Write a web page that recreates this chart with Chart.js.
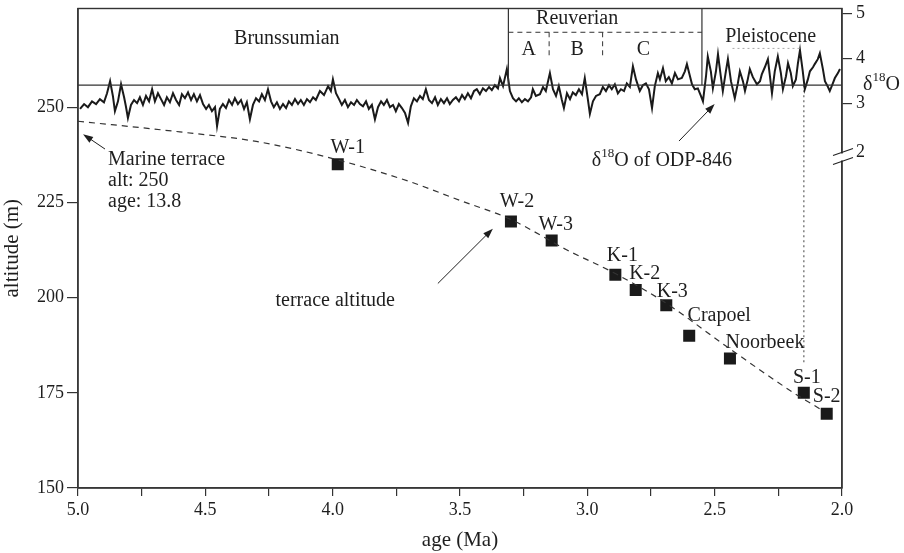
<!DOCTYPE html>
<html lang="en">
<head>
  <meta charset="UTF-8" />
  <title>Terrace altitude vs age</title>
  <script src="https://cdn.jsdelivr.net/npm/chart.js"></script>
  <style>
    body { margin: 0; background: #fff; }
  </style>
</head>
<body>
<canvas id="chart" width="904" height="553"></canvas>
<script>
  // axis ticks
  const ageTicks = [5.0, 4.75, 4.5, 4.25, 4.0, 3.75, 3.5, 3.25, 3.0, 2.75, 2.5, 2.25, 2.0];
  const ageMajor = [5.0, 4.5, 4.0, 3.5, 3.0, 2.5, 2.0];
  const altTicks = [150, 175, 200, 225, 250];
  const o18Ticks = [5, 4, 3, 2];

  // terrace sites
  const terraceNames = ["W-1", "W-2", "W-3", "K-1", "K-2", "K-3", "Crapoel", "Noorbeek", "S-1", "S-2"];
  const terraceAge = [3.98, 3.30, 3.14, 2.89, 2.81, 2.69, 2.60, 2.44, 2.15, 2.06];
  const terraceAlt = [235, 220, 215, 206, 202, 198, 190, 184, 175, 169.5];

  // dashed uplift curve (from the marine terrace)
  const trendAge = [5.00, 4.60, 4.30, 4.00, 3.70, 3.50, 3.30, 3.08, 2.89, 2.69, 2.45, 2.19, 2.08];
  const trendAlt = [246.3, 243.5, 241, 236.5, 230.5, 225.5, 220.5, 212.5, 206.3, 198.5, 187, 175, 170.5];

  // d18O of ODP-846
  const o18Age = [
    4.992, 4.976, 4.961, 4.945, 4.929, 4.914, 4.898, 4.886, 4.874, 4.863,
    4.855, 4.843, 4.831, 4.819, 4.812, 4.804, 4.792, 4.780, 4.768, 4.757,
    4.745, 4.733, 4.721, 4.709, 4.698, 4.686, 4.674, 4.662, 4.651, 4.639,
    4.627, 4.615, 4.603, 4.592, 4.580, 4.568, 4.556, 4.545, 4.533, 4.521,
    4.509, 4.497, 4.486, 4.474, 4.462, 4.454, 4.443, 4.431, 4.419, 4.407,
    4.395, 4.384, 4.372, 4.360, 4.348, 4.337, 4.325, 4.313, 4.301, 4.289,
    4.278, 4.266, 4.254, 4.242, 4.231, 4.219, 4.207, 4.195, 4.183, 4.172,
    4.160, 4.148, 4.136, 4.125, 4.113, 4.101, 4.089, 4.077, 4.066, 4.050,
    4.034, 4.018, 4.007, 3.999, 3.987, 3.975, 3.964, 3.952, 3.940, 3.928,
    3.916, 3.905, 3.893, 3.881, 3.869, 3.858, 3.846, 3.834, 3.822, 3.810,
    3.799, 3.787, 3.775, 3.763, 3.752, 3.740, 3.728, 3.716, 3.704, 3.693,
    3.681, 3.669, 3.657, 3.646, 3.634, 3.622, 3.610, 3.598, 3.587, 3.575,
    3.563, 3.551, 3.540, 3.528, 3.516, 3.504, 3.492, 3.481, 3.469, 3.457,
    3.445, 3.434, 3.422, 3.410, 3.398, 3.386, 3.375, 3.363, 3.351, 3.343,
    3.331, 3.316, 3.304, 3.292, 3.280, 3.269, 3.257, 3.245, 3.233, 3.221,
    3.214, 3.202, 3.186, 3.174, 3.163, 3.147, 3.135, 3.123, 3.112, 3.100,
    3.092, 3.080, 3.068, 3.057, 3.045, 3.033, 3.021, 3.010, 2.998, 2.990,
    2.978, 2.966, 2.951, 2.939, 2.927, 2.915, 2.904, 2.892, 2.880, 2.868,
    2.856, 2.845, 2.833, 2.821, 2.809, 2.794, 2.782, 2.770, 2.758, 2.746,
    2.735, 2.723, 2.715, 2.703, 2.692, 2.680, 2.668, 2.656, 2.644, 2.629,
    2.617, 2.609, 2.597, 2.589, 2.578, 2.566, 2.554, 2.546, 2.534, 2.527,
    2.515, 2.507, 2.495, 2.487, 2.476, 2.468, 2.456, 2.448, 2.436, 2.421,
    2.409, 2.401, 2.389, 2.381, 2.370, 2.362, 2.350, 2.334, 2.322, 2.315,
    2.303, 2.291, 2.283, 2.275, 2.264, 2.252, 2.240, 2.232, 2.220, 2.212,
    2.201, 2.193, 2.181, 2.173, 2.165, 2.154, 2.146, 2.134, 2.126, 2.114,
    2.107, 2.095, 2.087, 2.075, 2.067, 2.055, 2.048, 2.036, 2.028, 2.016,
    2.008
  ];
  const o18Val = [
    2.87, 2.98, 2.91, 3.04, 2.98, 3.09, 3.02, 3.22, 3.49, 3.16,
    2.82, 3.04, 3.42, 3.13, 2.93, 2.67, 2.96, 3.07, 3.00, 3.13,
    2.96, 3.16, 3.04, 3.31, 3.04, 3.22, 3.09, 2.96, 3.13, 3.02,
    3.22, 3.07, 2.96, 3.20, 3.11, 3.24, 3.07, 3.20, 3.04, 3.18,
    2.98, 2.87, 2.96, 2.82, 2.91, 2.49, 2.87, 2.98, 2.89, 3.07,
    2.96, 3.11, 2.98, 3.07, 2.87, 3.02, 2.64, 2.96, 3.11, 3.04,
    3.20, 3.07, 3.31, 3.04, 2.91, 3.02, 2.87, 2.98, 2.89, 3.04,
    2.96, 3.09, 2.98, 3.07, 2.96, 3.09, 3.02, 3.13, 3.07, 3.27,
    3.18, 3.38, 3.27, 3.53, 3.22, 3.09, 2.96, 3.07, 2.91, 3.02,
    2.96, 3.07, 2.98, 2.93, 3.04, 2.87, 2.96, 2.64, 2.91, 3.04,
    2.96, 3.07, 2.91, 2.96, 2.82, 2.98, 2.89, 2.78, 2.56, 2.93,
    3.11, 3.04, 3.16, 3.09, 3.31, 3.07, 3.00, 3.13, 2.96, 3.09,
    3.00, 3.11, 2.98, 3.07, 3.13, 3.04, 3.18, 3.09, 3.22, 3.11,
    3.27, 3.31, 3.20, 3.33, 3.27, 3.36, 3.29, 3.40, 3.33, 3.56,
    3.38, 3.76, 3.27, 3.11, 3.04, 3.11, 3.02, 3.09, 3.04, 3.13,
    3.31, 3.16, 3.20, 3.36, 3.27, 3.67, 3.31, 3.16, 3.38, 3.07,
    2.89, 3.22, 3.09, 3.24, 3.18, 3.31, 3.20, 3.56, 3.09, 2.76,
    3.04, 3.16, 3.20, 3.36, 3.27, 3.40, 3.31, 3.42, 3.22, 3.31,
    3.27, 3.44, 3.36, 3.82, 3.53, 3.27, 3.40, 3.44, 3.31, 2.89,
    3.38, 3.67, 3.53, 3.78, 3.49, 3.58, 3.44, 3.67, 3.53, 3.56,
    3.71, 3.87, 3.60, 3.42, 3.31, 3.33, 3.16, 3.04, 3.60, 4.04,
    3.71, 3.33, 3.71, 4.09, 3.60, 3.27, 3.71, 3.98, 3.49, 3.11,
    3.44, 3.71, 3.49, 3.27, 3.53, 3.76, 3.58, 3.42, 3.49, 3.64,
    3.80, 3.98, 3.60, 3.22, 3.71, 4.04, 3.67, 3.31, 3.60, 3.89,
    3.67, 3.38, 3.53, 3.89, 4.18, 3.71, 3.31, 3.53, 3.71, 3.80,
    3.87, 3.98, 4.11, 3.76, 3.49, 3.36, 3.27, 3.44, 3.56, 3.67,
    3.76
  ];

  const SERIF = "'Liberation Serif', 'Times New Roman', serif";
  const INK = "#1e1e1e";

  // label offsets in px from each square
  const labelShift = {
    "W-1": [10, -17], "W-2": [6, -20], "W-3": [4, -16], "K-1": [7, -19], "K-2": [9, -16],
    "K-3": [6, -13], "Crapoel": [30, -20], "Noorbeek": [35, -16], "S-1": [3, -15], "S-2": [0, -17]
  };

  function rich(ctx, parts, x, y, size, align) {
    const main = size + "px " + SERIF, sup = Math.round(size * 0.65) + "px " + SERIF;
    let w = 0;
    parts.forEach(p => { ctx.font = p.sup ? sup : main; w += ctx.measureText(p.t).width; });
    let cx = align === "center" ? x - w / 2 : x;
    ctx.textAlign = "left";
    parts.forEach(p => {
      ctx.font = p.sup ? sup : main;
      ctx.fillText(p.t, cx, p.sup ? y - size * 0.35 : y);
      cx += ctx.measureText(p.t).width;
    });
  }

  function arrow(ctx, x1, y1, x2, y2) {
    const a = Math.atan2(y2 - y1, x2 - x1), L = 10, W = 3.5;
    ctx.beginPath(); ctx.moveTo(x1, y1); ctx.lineTo(x2 - Math.cos(a) * 6, y2 - Math.sin(a) * 6); ctx.stroke();
    ctx.beginPath();
    ctx.moveTo(x2, y2);
    ctx.lineTo(x2 - L * Math.cos(a) + W * Math.sin(a), y2 - L * Math.sin(a) - W * Math.cos(a));
    ctx.lineTo(x2 - L * Math.cos(a) - W * Math.sin(a), y2 - L * Math.sin(a) + W * Math.cos(a));
    ctx.closePath(); ctx.fill();
  }

  const annotations = {
    id: "annotations",
    afterDatasetsDraw(chart) {
      const { ctx, chartArea: ca, scales } = chart;
      const X = v => scales.x.getPixelForValue(v);
      const YA = v => scales.y.getPixelForValue(v);
      const YO = v => scales.y2.getPixelForValue(v);
      ctx.save();
      ctx.strokeStyle = "#333"; ctx.fillStyle = INK;

      // frame and stage boxes
      ctx.lineWidth = 1.4;
      ctx.strokeRect(ca.left, ca.top, ca.right - ca.left, ca.bottom - ca.top);
      const base = YO(3.4);
      ctx.lineWidth = 1.2;
      ctx.beginPath();
      ctx.moveTo(ca.left, base); ctx.lineTo(ca.right, base);
      ctx.moveTo(X(3.31), ca.top); ctx.lineTo(X(3.31), base);
      ctx.moveTo(X(2.55), ca.top); ctx.lineTo(X(2.55), base);
      ctx.stroke();
      ctx.setLineDash([5, 4]); ctx.lineWidth = 1;
      ctx.beginPath();
      ctx.moveTo(X(3.31), YO(4.58)); ctx.lineTo(X(2.55), YO(4.58));
      ctx.moveTo(X(3.15), YO(4.58)); ctx.lineTo(X(3.15), YO(4.0));
      ctx.moveTo(X(2.94), YO(4.58)); ctx.lineTo(X(2.94), YO(4.0));
      ctx.stroke();
      ctx.strokeStyle = "#aaa"; ctx.setLineDash([2, 3]);
      ctx.beginPath(); ctx.moveTo(X(2.43), YO(4.22)); ctx.lineTo(X(2.165), YO(4.22)); ctx.stroke();
      ctx.setLineDash([]);

      ctx.textBaseline = "middle"; ctx.textAlign = "center";
      ctx.font = "20px " + SERIF;
      ctx.fillText("Brunssumian", X(4.18), YO(4.44));
      ctx.fillText("Reuverian", X(3.04), YO(4.89));
      ctx.fillText("A", X(3.23), YO(4.2));
      ctx.fillText("B", X(3.04), YO(4.2));
      ctx.fillText("C", X(2.78), YO(4.2));
      ctx.fillText("Pleistocene", X(2.28), YO(4.49));

      // site labels
      const meta = chart.getDatasetMeta(2);
      meta.data.forEach((pt, i) => {
        const s = labelShift[terraceNames[i]] || [0, -16];
        ctx.fillText(terraceNames[i], pt.x + s[0], pt.y + s[1]);
      });

      // notes
      ctx.textAlign = "left";
      ctx.fillText("Marine terrace", X(4.882), YA(236.1));
      ctx.fillText("alt: 250", X(4.882), YA(230.6));
      ctx.fillText("age: 13.8", X(4.882), YA(225.1));
      ctx.textAlign = "center";
      ctx.fillText("terrace altitude", X(3.99), YA(199.2));
      rich(ctx, [{ t: "\u03b4" }, { t: "18", sup: true }, { t: "O of ODP-846" }], X(2.707), YA(235.9), 20, "center");

      ctx.strokeStyle = INK; ctx.lineWidth = 1;
      arrow(ctx, X(2.64), YA(241.1), X(2.50), YA(250.8));
      arrow(ctx, X(4.894), YA(239), X(4.98), YA(242.9));
      arrow(ctx, X(3.587), YA(203.7), X(3.371), YA(218.1));

      // right axis title and break
      rich(ctx, [{ t: "\u03b4" }, { t: "18", sup: true }, { t: "O" }], ca.right + 21, YO(3.42), 20, "left");
      const yb = YO(1.9);
      ctx.fillStyle = "#fff";
      ctx.fillRect(ca.right - 2, yb + 1, 4, 7);
      ctx.strokeStyle = "#222"; ctx.lineWidth = 1.1;
      ctx.beginPath();
      ctx.moveTo(ca.right - 9, yb + 3); ctx.lineTo(ca.right + 11, yb - 4);
      ctx.moveTo(ca.right - 9, yb + 12); ctx.lineTo(ca.right + 11, yb + 5);
      ctx.stroke();
      ctx.restore();
    }
  };

  // fixed axis sizes so the plot box lands where the original has it
  const fitV = w => s => { s.width = w; s.paddingTop = 0; s.paddingBottom = 0; };

  const tickFont = { family: SERIF, size: 18 };
  const titleFont = { family: SERIF, size: 21 };
  const ctx = document.getElementById("chart").getContext("2d");
  new Chart(ctx, {
    type: "line",
    data: {
      datasets: [
        {
          label: "d18O ODP-846",
          data: o18Age.map((a, i) => ({ x: a, y: o18Val[i] })),
          yAxisID: "y2",
          borderColor: "#1a1a1a",
          borderWidth: 2,
          pointRadius: 0,
          tension: 0
        },
        {
          label: "terrace trend",
          data: trendAge.map((a, i) => ({ x: a, y: trendAlt[i] })),
          yAxisID: "y",
          borderColor: "#333",
          borderWidth: 1.2,
          borderDash: [6, 5],
          pointRadius: 0,
          cubicInterpolationMode: "monotone"
        },
        {
          label: "terraces",
          data: terraceAge.map((a, i) => ({ x: a, y: terraceAlt[i] })),
          yAxisID: "y",
          showLine: false,
          pointStyle: "rect",
          pointRadius: 8.5,
          pointBorderWidth: 0,
          pointBackgroundColor: "#1a1a1a"
        },
        {
          label: "S-1 marker",
          data: [{ x: 2.15, y: 183 }, { x: 2.15, y: 255.8 }],
          yAxisID: "y",
          borderColor: "#888",
          borderWidth: 1.6,
          borderDash: [2, 3],
          pointRadius: 0
        }
      ]
    },
    options: {
      responsive: false,
      animation: false,
      layout: { padding: { top: 7, left: 0, right: 0, bottom: 0 } },
      plugins: { legend: { display: false }, tooltip: { enabled: false } },
      scales: {
        x: {
          type: "linear", min: 2.0, max: 5.0, reverse: true,
          afterBuildTicks: s => { s.ticks = ageTicks.map(v => ({ value: v })); },
          afterFit: s => { s.height = 65; s.paddingLeft = 0; s.paddingRight = 0; },
          ticks: {
            autoSkip: false, maxRotation: 0, padding: 3, color: INK, font: tickFont,
            callback: v => ageMajor.includes(v) ? v.toFixed(1) : ""
          },
          grid: { drawOnChartArea: false, tickLength: 8, color: "#333", lineWidth: 1.2 },
          border: { color: "#444", width: 1.5 },
          title: { display: true, text: "age (Ma)", color: INK, font: titleFont, padding: { top: 0, bottom: 0 } }
        },
        y: {
          type: "linear", position: "left", min: 150, max: 275.9,
          afterBuildTicks: s => { s.ticks = altTicks.map(v => ({ value: v })); },
          afterFit: fitV(78),
          ticks: { padding: 3, color: INK, font: tickFont },
          grid: { drawOnChartArea: false, tickLength: 11, color: "#333", lineWidth: 1.2 },
          border: { color: "#444", width: 1.5 },
          title: { display: true, text: "altitude (m)", color: INK, font: titleFont, padding: { top: 0, bottom: 0 } }
        },
        y2: {
          type: "linear", position: "right", min: -5.58, max: 5.11,
          afterBuildTicks: s => { s.ticks = o18Ticks.map(v => ({ value: v === 2 ? 1.9 : v })); },
          afterFit: fitV(62),
          ticks: { padding: 4, color: INK, font: tickFont, callback: v => v < 2 ? "2" : String(v) },
          grid: {
            drawOnChartArea: false, tickLength: 10, lineWidth: 1.2,
            tickColor: c => (c.tick && c.tick.value < 2) ? "rgba(0,0,0,0)" : "#333"
          },
          border: { color: "#444", width: 1.5 }
        }
      }
    },
    plugins: [annotations]
  });
</script>
</body>
</html>
